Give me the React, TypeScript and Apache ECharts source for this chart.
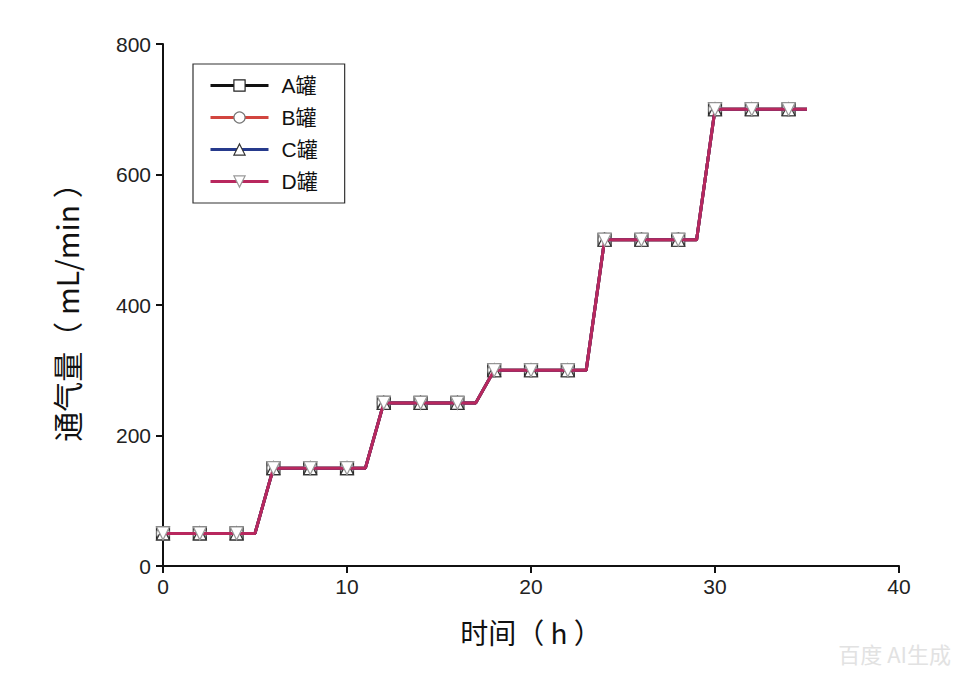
import React, { useEffect, useRef } from "react";
import * as echarts from "echarts";

const seriesNames = ["A罐", "B罐", "C罐", "D罐"];
const seriesColors = ["#111111", "#d2453f", "#263a8c", "#b8285e"];
const seriesSymbols = ["rect", "circle", "triangle", "path://M0,0 L10,0 L5,10 Z"];
const symbolBorders = ["#222222", "#777777", "#333333", "#999999"];

// time (h) and aeration rate (mL/min); identical for all four tanks
const times = [0, 2, 4, 5, 6, 8, 10, 11, 12, 14, 16, 17, 18, 20, 22, 23, 24, 26, 28, 29, 30, 32, 34, 35];
const flowA = [50, 50, 50, 50, 150, 150, 150, 150, 250, 250, 250, 250, 300, 300, 300, 300, 500, 500, 500, 500, 700, 700, 700, 700];
const flowB = [50, 50, 50, 50, 150, 150, 150, 150, 250, 250, 250, 250, 300, 300, 300, 300, 500, 500, 500, 500, 700, 700, 700, 700];
const flowC = [50, 50, 50, 50, 150, 150, 150, 150, 250, 250, 250, 250, 300, 300, 300, 300, 500, 500, 500, 500, 700, 700, 700, 700];
const flowD = [50, 50, 50, 50, 150, 150, 150, 150, 250, 250, 250, 250, 300, 300, 300, 300, 500, 500, 500, 500, 700, 700, 700, 700];
const markedTimes = [0, 2, 4, 6, 8, 10, 12, 14, 16, 18, 20, 22, 24, 26, 28, 30, 32, 34];

const xTicks = [0, 10, 20, 30, 40];
const yTicks = [0, 200, 400, 600, 800];

export default function App() {
  const ref = useRef<HTMLDivElement>(null);
  useEffect(() => {
    if (!ref.current) return;
    const chart = echarts.init(ref.current, undefined, { renderer: "svg" });
    const flows = [flowA, flowB, flowC, flowD];
    const series = seriesNames.map((name, i) => ({
      name,
      type: "line",
      symbol: seriesSymbols[i],
      symbolSize: 13,
      showAllSymbol: true,
      z: 2 + i,
      lineStyle: { color: seriesColors[i], width: 3 },
      itemStyle: { color: "#ffffff", borderColor: symbolBorders[i], borderWidth: 1.2 },
      data: times.map((t, k) => ({
        value: [t, flows[i][k]],
        symbol: markedTimes.includes(t) ? seriesSymbols[i] : "none",
      })),
    }));
    chart.setOption({
      animation: false,
      backgroundColor: "#ffffff",
      textStyle: { fontFamily: "Liberation Sans, Arial, sans-serif" },
      grid: { left: 163, right: 60, top: 44, bottom: 112 },
      legend: {
        orient: "vertical",
        left: 193,
        top: 64,
        padding: [11, 27, 11, 16],
        itemGap: 11,
        itemWidth: 58,
        itemHeight: 14,
        borderColor: "#333333",
        borderWidth: 1.2,
        data: seriesNames.map((n, i) => ({
          name: n,
          itemStyle: { color: "#ffffff", borderColor: symbolBorders[i], borderWidth: 1.2 },
          lineStyle: { color: seriesColors[i], width: 3 },
        })),
        textStyle: {
          fontSize: 21,
          color: "#111",
          fontFamily: "Liberation Sans, Noto Sans CJK SC, sans-serif",
          padding: [0, 0, 0, 8],
        },
      },
      xAxis: {
        type: "value",
        min: xTicks[0],
        max: xTicks[xTicks.length - 1],
        interval: 10,
        name: "时间（ h ）",
        nameLocation: "middle",
        nameGap: 52,
        nameTextStyle: { fontSize: 28, color: "#111", fontFamily: "Noto Sans CJK SC, sans-serif" },
        axisLine: { show: true, lineStyle: { color: "#111", width: 2 } },
        axisTick: { show: true, length: 7, lineStyle: { color: "#111", width: 2 } },
        axisLabel: { fontSize: 21, color: "#222", margin: 10 },
        splitLine: { show: false },
      },
      yAxis: {
        type: "value",
        min: yTicks[0],
        max: yTicks[yTicks.length - 1],
        interval: 200,
        name: "通气量（ mL/min ）",
        nameLocation: "middle",
        nameGap: 82,
        nameTextStyle: { fontSize: 30, color: "#111", fontFamily: "Noto Sans CJK SC, sans-serif" },
        axisLine: { show: true, lineStyle: { color: "#111", width: 2 } },
        axisTick: { show: true, length: 7, lineStyle: { color: "#111", width: 2 } },
        axisLabel: { fontSize: 21, color: "#222", margin: 12 },
        splitLine: { show: false },
      },
      graphic: [
        {
          type: "text",
          right: 8,
          bottom: 14,
          style: {
            text: "百度 AI生成",
            fontSize: 22,
            fill: "#e2e2e2",
            fontFamily: "Noto Sans CJK SC, sans-serif",
          },
        },
      ],
      series,
    });
    return () => chart.dispose();
  }, []);
  return <div ref={ref} style={{ width: 959, height: 678, margin: -8 }} />;
}
